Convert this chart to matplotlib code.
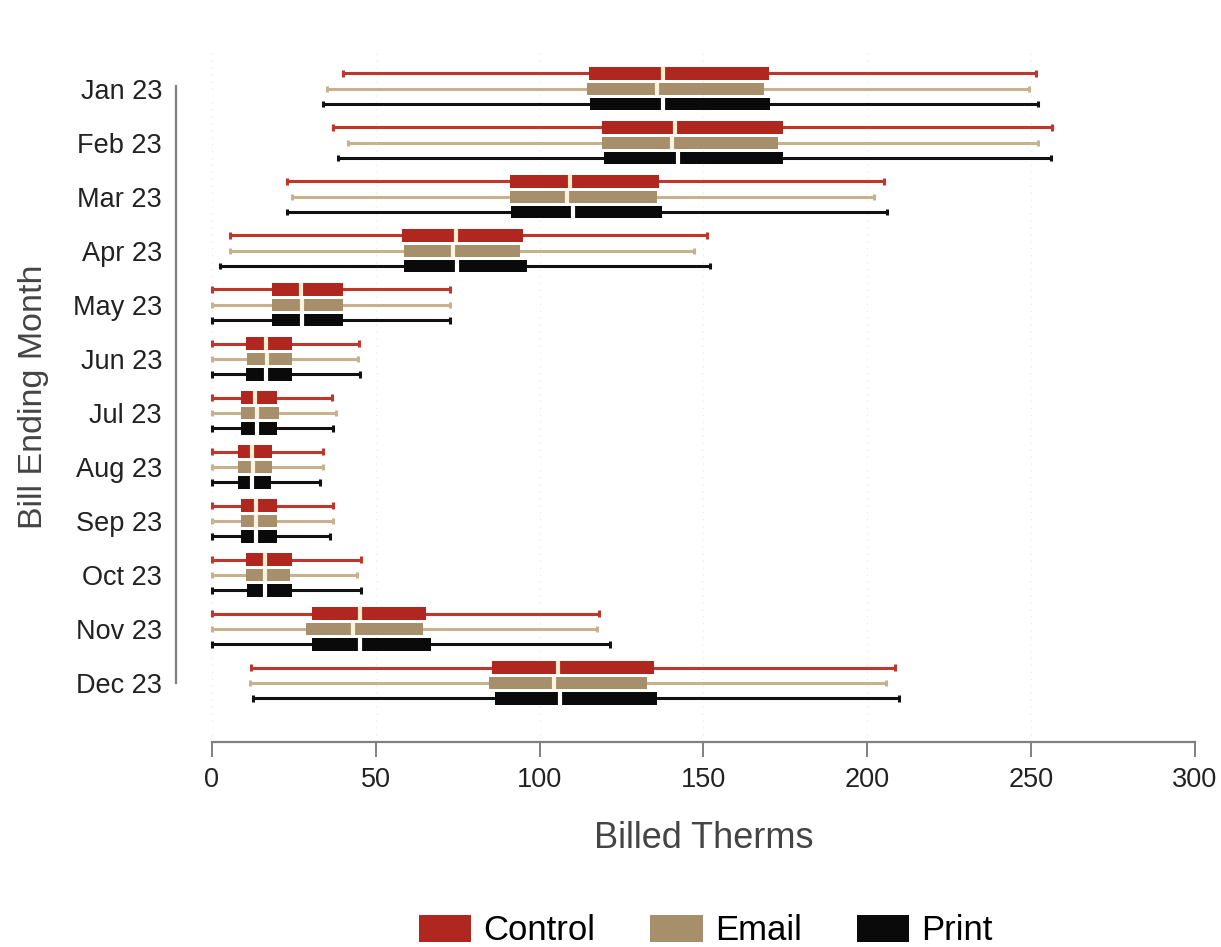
import numpy as np
import matplotlib.pyplot as plt
from matplotlib.patches import Patch

plt.rcParams['font.family'] = ['Liberation Sans', 'DejaVu Sans']

months = ['Jan 23', 'Feb 23', 'Mar 23', 'Apr 23', 'May 23', 'Jun 23',
          'Jul 23', 'Aug 23', 'Sep 23', 'Oct 23', 'Nov 23', 'Dec 23']
groups = ['Control', 'Email', 'Print']

# five-number summaries (billed therms)
control_min = [40, 37, 23, 5.5, 0, 0, 0, 0, 0, 0, 0, 12]
control_q1 = [115, 119, 91, 58, 18.2, 10.4, 8.9, 7.8, 8.9, 10.4, 30.4, 85.6]
control_med = [137.5, 141.3, 109.2, 74.5, 27.2, 16.4, 13.1, 12.3, 13.3, 16.2, 45.2, 105.7]
control_q3 = [170, 174.3, 136.5, 95, 40, 24.3, 19.9, 18.4, 19.9, 24.3, 65.4, 134.9]
control_max = [251.5, 256.5, 205, 151, 72.6, 45, 36.7, 34, 37, 45.4, 118.2, 208.4]

email_min = [35, 41.4, 24.3, 5.5, 0, 0, 0, 0, 0, 0, 0, 11.5]
email_q1 = [114.4, 119, 90.9, 58.7, 18.2, 10.8, 8.8, 7.8, 8.9, 10.4, 28.7, 84.5]
email_med = [135.7, 140.3, 108.4, 73.5, 27.4, 16.7, 13.8, 12.6, 13.3, 16.2, 42.9, 104.3]
email_q3 = [168.4, 172.8, 135.7, 94, 40.1, 24.3, 20.4, 18.4, 19.9, 23.8, 64.5, 132.9]
email_max = [249.3, 252, 202, 147.2, 72.6, 44.7, 37.7, 34, 37, 44.4, 117.4, 205.6]

print_min = [33.8, 38.4, 22.8, 2.4, 0, 0, 0, 0, 0, 0, 0, 12.6]
print_q1 = [115.5, 119.6, 91.2, 58.6, 18.2, 10.4, 8.9, 7.8, 8.9, 10.6, 30.4, 86.5]
print_med = [137.6, 142.3, 110.3, 74.7, 27.4, 16.4, 13.8, 12.1, 13.3, 16.2, 45.2, 106.3]
print_q3 = [170.3, 174.3, 137.2, 96, 40.1, 24.3, 19.9, 17.9, 19.7, 24.3, 66.8, 135.7]
print_max = [252, 256, 206, 152, 72.6, 45.2, 36.8, 33, 36, 45.4, 121.5, 209.8]

stats = {
    'Control': (control_min, control_q1, control_med, control_q3, control_max),
    'Email': (email_min, email_q1, email_med, email_q3, email_max),
    'Print': (print_min, print_q1, print_med, print_q3, print_max),
}
box_colors = {'Control': '#b0271f', 'Email': '#a88f6c', 'Print': '#0a0a0a'}
line_colors = {'Control': '#c0362a', 'Email': '#c8b28e', 'Print': '#111111'}
median_colors = {'Control': '#fbefd0', 'Email': '#fbf3dc', 'Print': '#ffffff'}
offsets = {'Control': -0.285, 'Email': 0.0, 'Print': 0.285}

fig = plt.figure(figsize=(12.21, 9.47), dpi=100)
ax = fig.add_axes([0.1441, 0.2165, 0.8346, 0.7297])

y = np.arange(len(months))
box_h = 0.23
cap_h = 0.12
for g in groups:
    lo, q1, med, q3, hi = (np.array(a) for a in stats[g])
    yy = y + offsets[g]
    ax.hlines(yy, lo, hi, color=line_colors[g], lw=2.2, zorder=2)
    ax.vlines(lo, yy - cap_h / 2, yy + cap_h / 2, color=line_colors[g], lw=2.2, zorder=2)
    ax.vlines(hi, yy - cap_h / 2, yy + cap_h / 2, color=line_colors[g], lw=2.2, zorder=2)
    ax.barh(yy, q3 - q1, left=q1, height=box_h, color=box_colors[g], zorder=3)
    ax.vlines(med, yy - box_h / 2, yy + box_h / 2, color=median_colors[g], lw=3, zorder=4)

ax.set_xlim(-11, 300)
ax.set_ylim(len(months) - 1 + 1.09, -0.7)
ax.set_xticks([0, 50, 100, 150, 200, 250, 300])
ax.set_yticks(y)
ax.set_yticklabels(months)

for x in [0, 50, 100, 150, 200, 250, 300]:
    ax.axvline(x, color='#ececec', lw=1, ls=(0, (1, 4)), zorder=0)

for s in ['top', 'right']:
    ax.spines[s].set_visible(False)
ax.spines['bottom'].set_bounds(0, 300)
ax.spines['left'].set_bounds(-0.05, len(months) - 1)
for s in ['bottom', 'left']:
    ax.spines[s].set_color('#808080')
    ax.spines[s].set_linewidth(1.6)

ax.tick_params(axis='x', length=11, width=1.4, color='#808080', labelsize=19.5,
               labelcolor='#222222', pad=7)
ax.tick_params(axis='y', length=0, labelsize=19.5, labelcolor='#222222', pad=10)

ax.set_xlabel('Billed Therms', fontsize=26, color='#444444')
ax.xaxis.set_label_coords(0.5177, -0.115)
ax.set_ylabel('Bill Ending Month', fontsize=24.5, color='#444444')
ax.yaxis.set_label_coords(-0.125, 0.5)

handles = [Patch(facecolor=box_colors[g], edgecolor='none', label=g) for g in groups]
fig.legend(handles=handles, loc='center', bbox_to_anchor=(0.578, 0.017), ncol=3,
           frameon=False, fontsize=25, handlelength=1.5, handleheight=0.8,
           columnspacing=1.6, handletextpad=0.35)

fig.savefig('out.png', dpi=100)
